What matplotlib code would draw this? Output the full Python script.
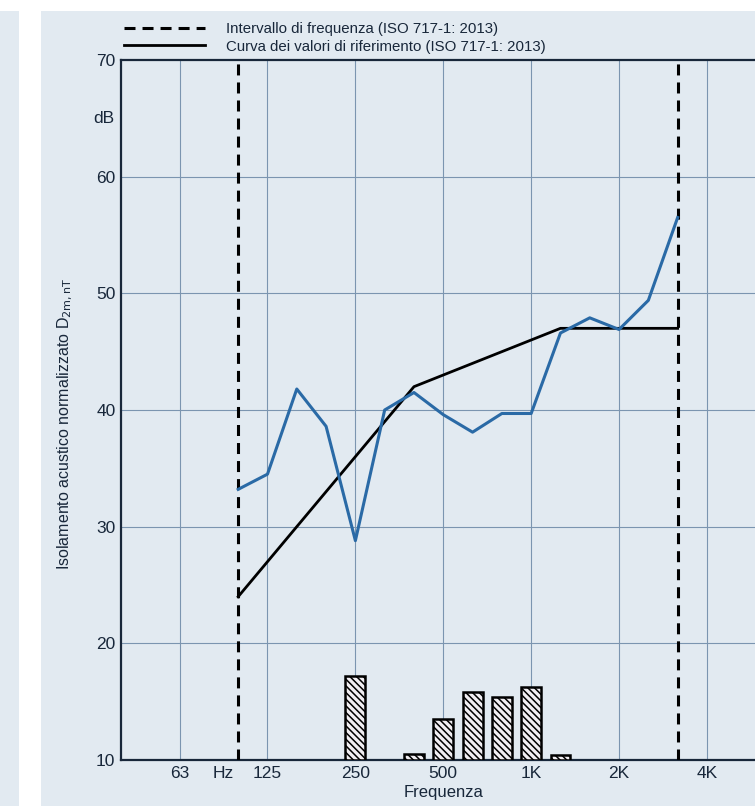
import numpy as np
import matplotlib
matplotlib.use("Agg")
import matplotlib.pyplot as plt
from matplotlib.patches import Rectangle

plt.rcParams['font.family'] = ['Liberation Sans Narrow', 'Liberation Sans', 'DejaVu Sans']
plt.rcParams['hatch.linewidth'] = 1.1

# ── Data ──────────────────────────────────────────────────────────────────────
# third-octave bands 100 Hz .. 3150 Hz (band index 0..15)
bands = ["100", "125", "160", "200", "250", "315", "400", "500", "630",
         "800", "1000", "1250", "1600", "2000", "2500", "3150"]
measured = [33.2, 34.5, 41.8, 38.6, 28.8, 40.0, 41.5, 39.6, 38.1,
            39.7, 39.7, 46.6, 47.9, 46.9, 49.4, 56.5]
reference = [24, 27, 30, 33, 36, 39, 42, 43, 44, 45, 46, 47, 47, 47, 47, 47]

# unfavourable deviations (bars, drawn up from 10 dB)
dev_bands = [4, 6, 7, 8, 9, 10, 11]
deviations = [7.2, 0.5, 3.5, 5.8, 5.4, 6.3, 0.4]

tick_pos = [-2, -0.5, 1, 4, 7, 10, 13, 16]
tick_labels = ["63", "Hz", "125", "250", "500", "1K", "2K", "4K"]
octave_grid = [-2, 1, 4, 7, 10, 13, 16]

panel = "#e2eaf1"
navy = "#18273a"
gridc = "#7b95b0"

fig = plt.figure(figsize=(7.55, 8.06), dpi=100)
fig.patch.set_facecolor("white")
fig.patches.append(Rectangle((0, 0), 19 / 755, 795 / 806, transform=fig.transFigure,
                             facecolor=panel, edgecolor="none", zorder=-10))
fig.patches.append(Rectangle((41 / 755, 0), 1, 795 / 806, transform=fig.transFigure,
                             facecolor=panel, edgecolor="none", zorder=-10))

ax = fig.add_axes([121 / 755, 46 / 806, (755 - 121) / 755, 700 / 806])
ax.set_facecolor(panel)

x = np.arange(len(bands))

ax.bar(dev_bands, deviations, bottom=10, width=0.68, facecolor="#f1eef2",
       edgecolor="black", linewidth=1.8, hatch="\\\\\\\\\\", zorder=3)

ax.axvline(0, color="black", lw=2.2, ls=(0, (3.6, 2.3)), zorder=4,
           label="Intervallo di frequenza (ISO 717-1: 2013)")
ax.axvline(15, color="black", lw=2.2, ls=(0, (3.6, 2.3)), zorder=4)

ax.plot(x, reference, color="black", lw=2.0, zorder=5,
        label="Curva dei valori di riferimento (ISO 717-1: 2013)")
ax.plot(x, measured, color="#2a6aa6", lw=2.2, zorder=6)

ax.set_xlim(-4, 17.64)
ax.set_ylim(10, 70)
ax.set_yticks(range(10, 71, 10))
ax.set_xticks(tick_pos)
ax.set_xticklabels(tick_labels)
ax.tick_params(length=0, labelsize=12.5, colors=navy, pad=4)

for g in octave_grid:
    ax.axvline(g, color=gridc, lw=0.8, zorder=1)
for g in range(20, 70, 10):
    ax.axhline(g, color=gridc, lw=0.8, zorder=1)

for side in ["left", "bottom", "top"]:
    ax.spines[side].set_color(navy)
    ax.spines[side].set_linewidth(1.6)
ax.spines["right"].set_visible(False)

ax.text(-0.01, 65, "dB", transform=ax.get_yaxis_transform(), ha="right", va="center",
        fontsize=12.5, color=navy)
ax.set_ylabel("Isolamento acustico normalizzato D$_{\\mathrm{2m,nT}}$", fontsize=11.5,
              color=navy)
ax.yaxis.set_label_coords(-46 / 634, 0.48)
ax.text(7, -0.047, "Frequenza", transform=ax.get_xaxis_transform(), ha="center",
        va="center", fontsize=12, color=navy)

ax.legend(loc="center left", bbox_to_anchor=(124 / 755, 1 - 38 / 806),
          bbox_transform=fig.transFigure, frameon=False, fontsize=10.8,
          handlelength=5.4, handletextpad=1.4, labelspacing=0.2,
          borderpad=0, borderaxespad=0, labelcolor=navy)

fig.savefig("out.png", dpi=100, facecolor=fig.get_facecolor())
